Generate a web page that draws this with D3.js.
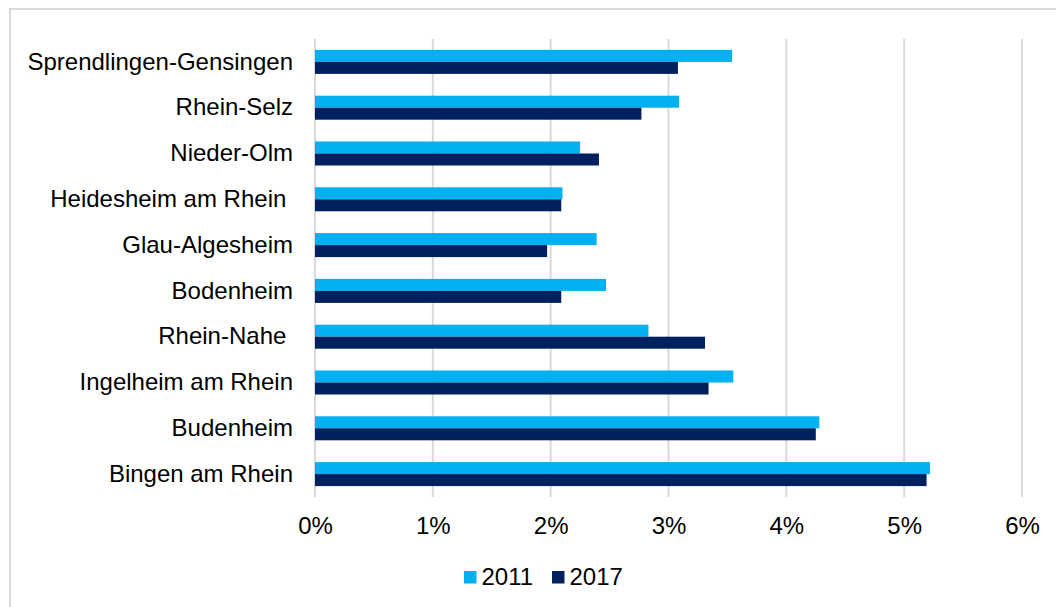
<!DOCTYPE html>
<html>
<head>
<meta charset="utf-8">
<script src="https://cdn.jsdelivr.net/npm/d3@7"></script>
<style>
  html, body { margin: 0; padding: 0; background: #fff; }
  svg { display: block; font-family: "Liberation Sans", Arial, sans-serif; }
  text { white-space: pre; }
</style>
</head>
<body>
<svg id="chart" width="1056" height="607"></svg>
<script>
// Municipalities, top to bottom (two labels carry a trailing blank)
const categories = [
  "Sprendlingen-Gensingen",
  "Rhein-Selz",
  "Nieder-Olm",
  "Heidesheim am Rhein ",
  "Glau-Algesheim",
  "Bodenheim",
  "Rhein-Nahe ",
  "Ingelheim am Rhein",
  "Budenheim",
  "Bingen am Rhein"
];
const seriesNames = ["2011", "2017"];
// Shares in percent
const values2011 = [3.54, 3.09, 2.25, 2.10, 2.39, 2.47, 2.83, 3.55, 4.28, 5.22];
const values2017 = [3.08, 2.77, 2.41, 2.09, 1.97, 2.09, 3.31, 3.34, 4.25, 5.19];
const tickValues = [0, 1, 2, 3, 4, 5, 6];
const colors = ["#00B0F0", "#002060"];

const FONT = 24;
const svg = d3.select("#chart");

// Chart frame
svg.append("rect")
  .attr("x", 10).attr("y", 9)
  .attr("width", 1100).attr("height", 700)
  .attr("fill", "#fff")
  .attr("stroke", "#d9d9d9").attr("stroke-width", 2);

const plot = { left: 315, right: 1022, top: 39, bottom: 497 };

const x = d3.scaleLinear().domain([0, 6]).range([plot.left, plot.right]);
const y = d3.scaleBand().domain(categories)
  .range([plot.top, plot.bottom])
  .paddingInner(0.476).paddingOuter(0.238);
const ySub = d3.scaleBand().domain(seriesNames).range([0, y.bandwidth()]);

// Vertical gridlines
svg.append("g").selectAll("line")
  .data(tickValues)
  .join("line")
  .attr("x1", d => x(d)).attr("x2", d => x(d))
  .attr("y1", plot.top).attr("y2", plot.bottom)
  .attr("stroke", "#d9d9d9").attr("stroke-width", 2);

// Bars
const rows = categories.map((c, i) => ({ cat: c, vals: [values2011[i], values2017[i]] }));
const groups = svg.append("g").selectAll("g")
  .data(rows)
  .join("g")
  .attr("transform", d => `translate(0,${y(d.cat)})`);
groups.selectAll("rect")
  .data(d => d.vals.map((v, j) => ({ key: seriesNames[j], v, j })))
  .join("rect")
  .attr("x", x(0))
  .attr("y", d => ySub(d.key))
  .attr("width", d => x(d.v) - x(0))
  .attr("height", ySub.bandwidth())
  .attr("fill", d => colors[d.j]);

// Category axis
const yAxis = d3.axisLeft(y).tickSize(0).tickPadding(22);
const yg = svg.append("g").attr("transform", `translate(${plot.left},0)`).call(yAxis);
yg.select(".domain").remove();
yg.selectAll("text").attr("font-size", FONT).attr("fill", "#000")
  .attr("font-family", "'Liberation Sans', Arial, sans-serif");

// Percent axis
const xAxis = d3.axisBottom(x).tickValues(tickValues)
  .tickFormat(d => d + "%").tickSize(0).tickPadding(20);
const xg = svg.append("g").attr("transform", `translate(0,${plot.bottom})`).call(xAxis);
xg.select(".domain").remove();
xg.selectAll("text").attr("font-size", FONT).attr("fill", "#000")
  .attr("font-family", "'Liberation Sans', Arial, sans-serif");

// Legend
const legendItems = [
  { name: seriesNames[0], color: colors[0], x: 464 },
  { name: seriesNames[1], color: colors[1], x: 552 }
];
const lg = svg.append("g");
legendItems.forEach(it => {
  lg.append("rect").attr("x", it.x).attr("y", 571)
    .attr("width", 12.5).attr("height", 12.5).attr("fill", it.color);
  lg.append("text").attr("x", it.x + 17.5).attr("y", 585)
    .attr("font-size", FONT).attr("fill", "#000")
    .text(it.name);
});
</script>
</body>
</html>
